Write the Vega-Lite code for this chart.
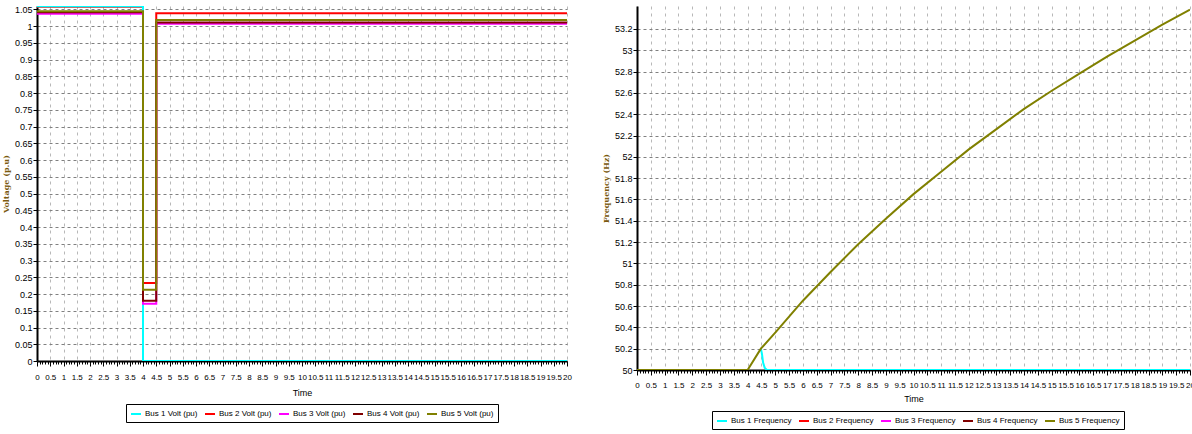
{
  "$schema": "https://vega.github.io/schema/vega-lite/v6.json",
  "padding": {"left": 2, "top": 5, "right": 0, "bottom": 0},
  "spacing": 30,
  "background": "white",
  "config": {
    "view": {"stroke": null},
    "font": "Liberation Sans, Arial, sans-serif",
    "axis": {
      "domainColor": "black", "domainWidth": 2, "tickColor": "black", "tickSize": 4,
      "labelFontSize": 9, "labelColor": "black", "labelOverlap": false, "labelFlush": false,
      "titleFontSize": 9, "titleFontWeight": "normal", "titleColor": "black", "format": "~g"
    },
    "axisX": {"labelFontSize": 8},
    "legend": {
      "orient": "none", "direction": "horizontal", "columns": 5, "title": null,
      "symbolType": "stroke", "symbolStrokeWidth": 2, "symbolSize": 100,
      "labelFontSize": 8, "labelColor": "black", "labelOffset": 3, "strokeColor": "black", "fillColor": "white",
      "padding": 4, "columnPadding": 3, "labelLimit": 300
    }
  },
  "resolve": {"scale": {"color": "independent"}, "legend": {"color": "independent"}},
  "hconcat": [
    {
      "width": 530,
      "height": 355,
      "data": {"values": [
        {"series": "Bus 2 Volt (pu)", "i": 0, "t": 0, "v": 1.058},
        {"series": "Bus 2 Volt (pu)", "i": 1, "t": 4, "v": 1.058},
        {"series": "Bus 2 Volt (pu)", "i": 2, "t": 4, "v": 0.233},
        {"series": "Bus 2 Volt (pu)", "i": 3, "t": 4.5, "v": 0.233},
        {"series": "Bus 2 Volt (pu)", "i": 4, "t": 4.5, "v": 1.038},
        {"series": "Bus 2 Volt (pu)", "i": 5, "t": 20, "v": 1.038},
        {"series": "Bus 1 Volt (pu)", "i": 0, "t": 0, "v": 1.059},
        {"series": "Bus 1 Volt (pu)", "i": 1, "t": 4, "v": 1.059},
        {"series": "Bus 1 Volt (pu)", "i": 2, "t": 4, "v": 0},
        {"series": "Bus 1 Volt (pu)", "i": 3, "t": 20, "v": 0},
        {"series": "Bus 3 Volt (pu)", "i": 0, "t": 0, "v": 1.037},
        {"series": "Bus 3 Volt (pu)", "i": 1, "t": 4, "v": 1.037},
        {"series": "Bus 3 Volt (pu)", "i": 2, "t": 4, "v": 0.171},
        {"series": "Bus 3 Volt (pu)", "i": 3, "t": 4.5, "v": 0.171},
        {"series": "Bus 3 Volt (pu)", "i": 4, "t": 4.5, "v": 1.007},
        {"series": "Bus 3 Volt (pu)", "i": 5, "t": 20, "v": 1.007},
        {"series": "Bus 4 Volt (pu)", "i": 0, "t": 0, "v": 1.041},
        {"series": "Bus 4 Volt (pu)", "i": 1, "t": 4, "v": 1.041},
        {"series": "Bus 4 Volt (pu)", "i": 2, "t": 4, "v": 0.18},
        {"series": "Bus 4 Volt (pu)", "i": 3, "t": 4.5, "v": 0.18},
        {"series": "Bus 4 Volt (pu)", "i": 4, "t": 4.5, "v": 1.011},
        {"series": "Bus 4 Volt (pu)", "i": 5, "t": 20, "v": 1.011},
        {"series": "Bus 5 Volt (pu)", "i": 0, "t": 0, "v": 1.044},
        {"series": "Bus 5 Volt (pu)", "i": 1, "t": 4, "v": 1.044},
        {"series": "Bus 5 Volt (pu)", "i": 2, "t": 4, "v": 0.213},
        {"series": "Bus 5 Volt (pu)", "i": 3, "t": 4.5, "v": 0.213},
        {"series": "Bus 5 Volt (pu)", "i": 4, "t": 4.5, "v": 1.018},
        {"series": "Bus 5 Volt (pu)", "i": 5, "t": 20, "v": 1.018}
      ]},
      "mark": {"type": "line", "strokeWidth": 2, "clip": true},
      "encoding": {
        "x": {"field": "t", "type": "quantitative", "scale": {"domain": [0, 20], "nice": false},
          "axis": {"title": "Time", "grid": true, "gridColor": "#b8b8b8", "gridDash": [3, 4], "titlePadding": 7, "labelPadding": 7,
            "values": [0,0.1,0.2,0.3,0.4,0.5,0.6,0.7,0.8,0.9,1,1.1,1.2,1.3,1.4,1.5,1.6,1.7,1.8,1.9,2,2.1,2.2,2.3,2.4,2.5,2.6,2.7,2.8,2.9,3,3.1,3.2,3.3,3.4,3.5,3.6,3.7,3.8,3.9,4,4.1,4.2,4.3,4.4,4.5,4.6,4.7,4.8,4.9,5,5.1,5.2,5.3,5.4,5.5,5.6,5.7,5.8,5.9,6,6.1,6.2,6.3,6.4,6.5,6.6,6.7,6.8,6.9,7,7.1,7.2,7.3,7.4,7.5,7.6,7.7,7.8,7.9,8,8.1,8.2,8.3,8.4,8.5,8.6,8.7,8.8,8.9,9,9.1,9.2,9.3,9.4,9.5,9.6,9.7,9.8,9.9,10,10.1,10.2,10.3,10.4,10.5,10.6,10.7,10.8,10.9,11,11.1,11.2,11.3,11.4,11.5,11.6,11.7,11.8,11.9,12,12.1,12.2,12.3,12.4,12.5,12.6,12.7,12.8,12.9,13,13.1,13.2,13.3,13.4,13.5,13.6,13.7,13.8,13.9,14,14.1,14.2,14.3,14.4,14.5,14.6,14.7,14.8,14.9,15,15.1,15.2,15.3,15.4,15.5,15.6,15.7,15.8,15.9,16,16.1,16.2,16.3,16.4,16.5,16.6,16.7,16.8,16.9,17,17.1,17.2,17.3,17.4,17.5,17.6,17.7,17.8,17.9,18,18.1,18.2,18.3,18.4,18.5,18.6,18.7,18.8,18.9,19,19.1,19.2,19.3,19.4,19.5,19.6,19.7,19.8,19.9,20],
            "labelExpr": "abs(datum.value*2 - round(datum.value*2)) < 0.01 ? datum.label : ''",
            "tickSize": {"condition": {"test": "abs(datum.value*2 - round(datum.value*2)) < 0.01", "value": 5}, "value": 3},
            "gridOpacity": {"condition": {"test": "abs(datum.value*2 - round(datum.value*2)) < 0.01", "value": 1}, "value": 0}}},
        "y": {"field": "v", "type": "quantitative", "scale": {"domain": [0, 1.06], "nice": false},
          "axis": {"title": "Voltage (p.u)", "values": [0,0.05,0.1,0.15,0.2,0.25,0.3,0.35,0.4,0.45,0.5,0.55,0.6,0.65,0.7,0.75,0.8,0.85,0.9,0.95,1,1.05],
            "grid": true, "gridColor": "#808080", "gridDash": [3, 3], "labelPadding": 1,
            "titleFont": "DejaVu Serif", "titleFontSize": 8, "titleFontWeight": "bold", "titleColor": "#7a5a10", "titlePadding": 4}},
        "color": {"field": "series", "type": "nominal",
          "scale": {"domain": ["Bus 1 Volt (pu)", "Bus 2 Volt (pu)", "Bus 3 Volt (pu)", "Bus 4 Volt (pu)", "Bus 5 Volt (pu)"],
            "range": ["#00ffff", "#ff0000", "#ff00ff", "#800000", "#808000"]},
          "legend": {"legendX": 89, "legendY": 398}},
        "order": {"field": "i", "type": "quantitative"}
      }
    },
    {
      "width": 553,
      "height": 364,
      "data": {"values": [
        {"series": "Bus 1 Frequency", "i": 0, "t": 4.48, "f": 50.2},
        {"series": "Bus 1 Frequency", "i": 1, "t": 4.52, "f": 50.15},
        {"series": "Bus 1 Frequency", "i": 2, "t": 4.56, "f": 50.07},
        {"series": "Bus 1 Frequency", "i": 3, "t": 4.62, "f": 50.02},
        {"series": "Bus 1 Frequency", "i": 4, "t": 4.7, "f": 50},
        {"series": "Bus 1 Frequency", "i": 5, "t": 20, "f": 50},
        {"series": "Bus 5 Frequency", "i": 0, "t": 0, "f": 50},
        {"series": "Bus 5 Frequency", "i": 1, "t": 4.0, "f": 50},
        {"series": "Bus 5 Frequency", "i": 2, "t": 4.48, "f": 50.2},
        {"series": "Bus 5 Frequency", "i": 3, "t": 5, "f": 50.35},
        {"series": "Bus 5 Frequency", "i": 4, "t": 5.5, "f": 50.5},
        {"series": "Bus 5 Frequency", "i": 5, "t": 6, "f": 50.65},
        {"series": "Bus 5 Frequency", "i": 6, "t": 7, "f": 50.92},
        {"series": "Bus 5 Frequency", "i": 7, "t": 8, "f": 51.18},
        {"series": "Bus 5 Frequency", "i": 8, "t": 9, "f": 51.42},
        {"series": "Bus 5 Frequency", "i": 9, "t": 10, "f": 51.65},
        {"series": "Bus 5 Frequency", "i": 10, "t": 11, "f": 51.86},
        {"series": "Bus 5 Frequency", "i": 11, "t": 12, "f": 52.07},
        {"series": "Bus 5 Frequency", "i": 12, "t": 13, "f": 52.26},
        {"series": "Bus 5 Frequency", "i": 13, "t": 14, "f": 52.45},
        {"series": "Bus 5 Frequency", "i": 14, "t": 15, "f": 52.62},
        {"series": "Bus 5 Frequency", "i": 15, "t": 16, "f": 52.78},
        {"series": "Bus 5 Frequency", "i": 16, "t": 17, "f": 52.94},
        {"series": "Bus 5 Frequency", "i": 17, "t": 18, "f": 53.09},
        {"series": "Bus 5 Frequency", "i": 18, "t": 19, "f": 53.24},
        {"series": "Bus 5 Frequency", "i": 19, "t": 20, "f": 53.38}
      ]},
      "mark": {"type": "line", "strokeWidth": 2, "clip": true},
      "encoding": {
        "x": {"field": "t", "type": "quantitative", "scale": {"domain": [0, 20], "nice": false},
          "axis": {"title": "Time", "grid": true, "gridColor": "#b8b8b8", "gridDash": [3, 4], "titlePadding": 5, "labelPadding": 6,
            "values": [0,0.1,0.2,0.3,0.4,0.5,0.6,0.7,0.8,0.9,1,1.1,1.2,1.3,1.4,1.5,1.6,1.7,1.8,1.9,2,2.1,2.2,2.3,2.4,2.5,2.6,2.7,2.8,2.9,3,3.1,3.2,3.3,3.4,3.5,3.6,3.7,3.8,3.9,4,4.1,4.2,4.3,4.4,4.5,4.6,4.7,4.8,4.9,5,5.1,5.2,5.3,5.4,5.5,5.6,5.7,5.8,5.9,6,6.1,6.2,6.3,6.4,6.5,6.6,6.7,6.8,6.9,7,7.1,7.2,7.3,7.4,7.5,7.6,7.7,7.8,7.9,8,8.1,8.2,8.3,8.4,8.5,8.6,8.7,8.8,8.9,9,9.1,9.2,9.3,9.4,9.5,9.6,9.7,9.8,9.9,10,10.1,10.2,10.3,10.4,10.5,10.6,10.7,10.8,10.9,11,11.1,11.2,11.3,11.4,11.5,11.6,11.7,11.8,11.9,12,12.1,12.2,12.3,12.4,12.5,12.6,12.7,12.8,12.9,13,13.1,13.2,13.3,13.4,13.5,13.6,13.7,13.8,13.9,14,14.1,14.2,14.3,14.4,14.5,14.6,14.7,14.8,14.9,15,15.1,15.2,15.3,15.4,15.5,15.6,15.7,15.8,15.9,16,16.1,16.2,16.3,16.4,16.5,16.6,16.7,16.8,16.9,17,17.1,17.2,17.3,17.4,17.5,17.6,17.7,17.8,17.9,18,18.1,18.2,18.3,18.4,18.5,18.6,18.7,18.8,18.9,19,19.1,19.2,19.3,19.4,19.5,19.6,19.7,19.8,19.9,20],
            "labelExpr": "abs(datum.value*2 - round(datum.value*2)) < 0.01 ? datum.label : ''",
            "tickSize": {"condition": {"test": "abs(datum.value*2 - round(datum.value*2)) < 0.01", "value": 5}, "value": 3},
            "gridOpacity": {"condition": {"test": "abs(datum.value*2 - round(datum.value*2)) < 0.01", "value": 1}, "value": 0}}},
        "y": {"field": "f", "type": "quantitative", "scale": {"domain": [50, 53.415], "nice": false, "zero": false},
          "axis": {"title": "Frequency (Hz)", "values": [50,50.2,50.4,50.6,50.8,51,51.2,51.4,51.6,51.8,52,52.2,52.4,52.6,52.8,53,53.2],
            "grid": true, "gridColor": "#808080", "gridDash": [3, 3], "labelPadding": 1,
            "titleFont": "DejaVu Serif", "titleFontSize": 8, "titleFontWeight": "bold", "titleColor": "#7a5a10", "titlePadding": 4}},
        "color": {"field": "series", "type": "nominal",
          "scale": {"domain": ["Bus 1 Frequency", "Bus 2 Frequency", "Bus 3 Frequency", "Bus 4 Frequency", "Bus 5 Frequency"],
            "range": ["#00ffff", "#ff0000", "#ff00ff", "#800000", "#808000"]},
          "legend": {"legendX": 75, "legendY": 405}},
        "order": {"field": "i", "type": "quantitative"}
      }
    }
  ]
}
